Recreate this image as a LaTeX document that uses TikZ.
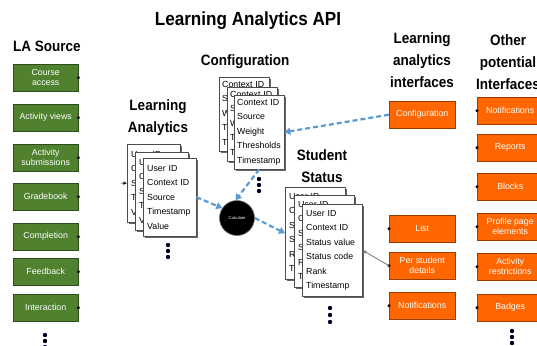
\documentclass[tikz,border=0pt]{standalone}
\usepackage{fontspec}
\setmainfont{Liberation Sans}
\usetikzlibrary{arrows.meta,shadows}
\definecolor{lagreen}{RGB}{79,129,46}
\definecolor{laorange}{RGB}{255,102,0}
\definecolor{lablue}{RGB}{91,155,213}
\newcommand{\ttl}[1]{\scalebox{0.9}[1]{#1}}
\begin{document}
\begin{tikzpicture}[x=1pt,y=-1pt,
  title/.style={font=\bfseries\fontsize{15}{22}\selectfont, align=center, inner sep=0},
  boxshadow/.style={drop shadow={shadow xshift=1.2pt, shadow yshift=-1.2pt, fill=black!75, opacity=1}},
  gbox/.style={anchor=north west, minimum width=65pt, minimum height=27pt, inner sep=1pt,
    fill=lagreen, draw=lagreen!60!black, text=white, align=center,
    font=\fontsize{8.8}{10}\selectfont, boxshadow},
  obox/.style={anchor=north west, minimum width=66pt, minimum height=27pt, inner sep=1pt,
    fill=laorange, draw=laorange!60!black, text=white, align=center,
    font=\fontsize{8.8}{10}\selectfont, boxshadow},
  card/.style={anchor=north west, fill=white, draw=black!70, inner ysep=0pt, align=left,
    font=\fontsize{8.8}{14.5}\selectfont,
    drop shadow={shadow xshift=1.5pt, shadow yshift=-1.5pt, fill=black!60, opacity=1}},
  lacard/.style={card, text width=45pt, inner xsep=4pt, minimum height=78pt},
  cfcard/.style={card, text width=44pt, inner xsep=3pt, minimum height=74pt},
  sscard/.style={card, text width=52pt, inner xsep=4pt, minimum height=92pt},
  bluearrow/.style={draw=lablue, line width=2.2pt, dash pattern=on 5pt off 3pt,
    -{Triangle[length=6pt,width=7pt]}},
  grayarrow/.style={draw=black!55, line width=0.8pt, -{Latex[length=4pt,width=3.5pt]}},
  edot/.style={fill=black},
  vdot/.style={fill=black!85!blue}
]
\useasboundingbox[fill=white] (0,0) rectangle (537,345);

% titles
\node[title, font=\bfseries\fontsize{19}{22}\selectfont] (tapi) at (248,21) {\ttl{Learning Analytics API}};
\node[title] (tsrc) at (47,46) {\ttl{LA Source}};
\node[title] (tconf) at (245,62) {\ttl{Configuration}};
\node[title] (tla) at (158,118) {\ttl{Learning}\\\ttl{Analytics}};
\node[title] (tss) at (322,166) {\ttl{Student}\\\ttl{Status}};
\node[title] (tlai) at (422,60) {\ttl{Learning}\\\ttl{analytics}\\\ttl{interfaces}};
\node[title] (toth) at (508,62) {\ttl{Other}\\\ttl{potential}\\\ttl{Interfaces}};

% LA source boxes
\node[gbox] (g1) at (13,64) {Course\\access};
\node[gbox] (g2) at (13,104) {Activity views};
\node[gbox] (g3) at (13,144) {Activity\\submissions};
\node[gbox] (g4) at (13,183) {Gradebook};
\node[gbox] (g5) at (13,223) {Completion};
\node[gbox] (g6) at (13,258) {Feedback};
\node[gbox] (g7) at (13,294) {Interaction};
\foreach \n in {g1,g2,g3,g4,g5,g6,g7} \fill[edot] (\n.east) circle (1.7);
\foreach \yy in {335,341,347} \fill[vdot] (45,\yy) circle (2.2);

% Learning analytics cards
\node[lacard] (lab) at (127,144) {User ID\\Context ID\\Source\\Timestamp\\Value};
\node[lacard] (lam) at (135,152) {User ID\\Context ID\\Source\\Timestamp\\Value};
\node[lacard] (laf) at (143,158) {User ID\\Context ID\\Source\\Timestamp\\Value};
\foreach \yy in {245,251,257} \fill[vdot] (168,\yy) circle (2.2);
\coordinate (lain) at (121,183);
\draw[line width=0.5pt, -{Latex[length=3.5pt,width=3.5pt]}] (lain) -- (lab.west);

% Configuration cards
\node[cfcard] (cfb) at (219,77) {Context ID\\Source\\Weight\\Thresholds\\Timestamp};
\node[cfcard] (cfm) at (227,87) {Context ID\\Source\\Weight\\Thresholds\\Timestamp};
\node[cfcard] (cff) at (234,95) {Context ID\\Source\\Weight\\Thresholds\\Timestamp};
\foreach \yy in {179,185,191} \fill[vdot] (259,\yy) circle (2.2);

% Student status cards
\node[sscard] (ssb) at (285,187) {User ID\\Context ID\\Status value\\Status code\\Rank\\Timestamp};
\node[sscard] (ssm) at (294,195) {User ID\\Context ID\\Status value\\Status code\\Rank\\Timestamp};
\node[sscard] (ssf) at (302,204) {User ID\\Context ID\\Status value\\Status code\\Rank\\Timestamp};
\foreach \yy in {308,315,322} \fill[vdot] (330,\yy) circle (2.2);

% Calculate
\node[circle, fill=black, draw=black!55, line width=0.6pt, minimum size=35pt, inner sep=0,
  text=white, font=\fontsize{4}{4}\selectfont] (calc) at (237,218) {Calculate};

% LA interfaces
\node[obox] (iconf) at (389,101) {Configuration};
\node[obox] (ilist) at (389,215) {List};
\node[obox] (ipsd) at (389,252) {Per student\\details};
\node[obox] (inot) at (389,292) {Notifications};
\foreach \n in {ilist,ipsd,inot} \fill[edot] (\n.west) circle (1.7);

% Other interfaces
\node[obox] (o1) at (477,97) {Notifications};
\node[obox] (o2) at (477,134) {Reports};
\node[obox] (o3) at (477,173) {Blocks};
\node[obox] (o4) at (477,213) {Profile page\\elements};
\node[obox] (o5) at (477,253) {Activity\\restrictions};
\node[obox] (o6) at (477,294) {Badges};
\foreach \n in {o1,o2,o3,o4,o5,o6} \fill[edot] (\n.west) circle (1.7);
\foreach \yy in {331,337,343} \fill[vdot] (512,\yy) circle (2.2);

% connectors
\draw[bluearrow] (laf.east) -- (calc.146);
\draw[bluearrow] (cff.south) -- (calc.95);
\draw[bluearrow] (calc.east) -- (ssb.west);
\draw[bluearrow] (iconf.west) -- (cff.east);
\draw[grayarrow] (ipsd.west) -- (ssf.east);
\end{tikzpicture}
\end{document}
